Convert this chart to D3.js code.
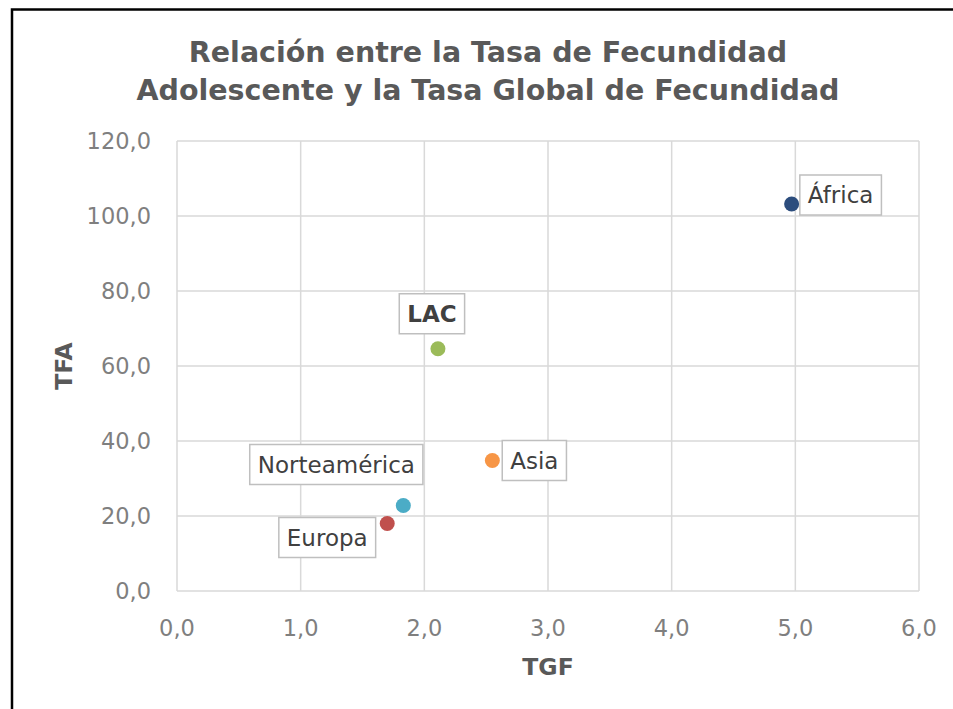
<!DOCTYPE html>
<meta charset="utf-8">
<style>

body {
  margin: 0;
  background: #fff;
}

text {
  font-family: "DejaVu Sans", sans-serif;
}

.grid line {
  stroke: #d9d9d9;
  stroke-width: 1.5px;
}

.tick-label {
  fill: #7f7f7f;
  font-size: 22.5px;
}

.axis-title, .title {
  fill: #595959;
  font-weight: bold;
}

.label-box {
  fill: #fff;
  stroke: #bfbfbf;
  stroke-width: 1.5px;
}

.label-text {
  fill: #404040;
  font-size: 23px;
}

</style>
<body>
<script src="https://d3js.org/d3.v7.min.js"></script>
<script>

var regions = ["África", "LAC", "Asia", "Norteamérica", "Europa"];
var tgf = [4.97, 2.11, 2.55, 1.83, 1.70];
var tfa = [103.2, 64.6, 34.8, 22.8, 18.0];
var colors = ["#2c4d7d", "#9bbb59", "#f79646", "#4bacc6", "#c0504d"];
var xTicks = [0, 1, 2, 3, 4, 5, 6];
var yTicks = [0, 20, 40, 60, 80, 100, 120];

// where each label box sits relative to its point
var labelPos = {
  "África":       {dx: 49, dy: -9},
  "LAC":          {dx: -6, dy: -35},
  "Asia":         {dx: 42, dy: 0},
  "Norteamérica": {dx: -67, dy: -41},
  "Europa":       {dx: -60, dy: 14}
};

var width = 953,
    height = 709;

var margin = {top: 141, right: 34, bottom: 118, left: 177};

var x = d3.scaleLinear()
    .domain([0, 6])
    .range([margin.left, width - margin.right]);

var y = d3.scaleLinear()
    .domain([0, 120])
    .range([height - margin.bottom, margin.top]);

var fmt = function(d) { return d3.format(".1f")(d).replace(".", ","); };

var svg = d3.select("body").append("svg")
    .attr("width", width)
    .attr("height", height);

// outer frame, runs off the right and bottom edges
svg.append("rect")
    .attr("x", 12)
    .attr("y", 9.5)
    .attr("width", width + 20)
    .attr("height", height + 20)
    .attr("fill", "none")
    .attr("stroke", "#000")
    .attr("stroke-width", 2.5);

var grid = svg.append("g").attr("class", "grid");

grid.selectAll(".vx")
    .data(xTicks).enter()
    .append("line")
    .attr("x1", function(d) { return x(d); })
    .attr("x2", function(d) { return x(d); })
    .attr("y1", y(0))
    .attr("y2", y(120));

grid.selectAll(".hy")
    .data(yTicks).enter()
    .append("line")
    .attr("x1", x(0))
    .attr("x2", x(6))
    .attr("y1", function(d) { return y(d); })
    .attr("y2", function(d) { return y(d); });

svg.selectAll(".xt")
    .data(xTicks).enter()
    .append("text")
    .attr("class", "tick-label")
    .attr("x", function(d) { return x(d); })
    .attr("y", y(0) + 45)
    .attr("text-anchor", "middle")
    .text(fmt);

svg.selectAll(".yt")
    .data(yTicks).enter()
    .append("text")
    .attr("class", "tick-label")
    .attr("x", x(0) - 26)
    .attr("y", function(d) { return y(d); })
    .attr("dy", "0.35em")
    .attr("text-anchor", "end")
    .text(fmt);

svg.append("text")
    .attr("class", "axis-title")
    .attr("x", (x(0) + x(6)) / 2)
    .attr("y", 675)
    .attr("text-anchor", "middle")
    .style("font-size", "23.5px")
    .text("TGF");

svg.append("text")
    .attr("class", "axis-title")
    .attr("transform", "translate(72," + (y(60)) + ") rotate(-90)")
    .attr("text-anchor", "middle")
    .style("font-size", "23.5px")
    .text("TFA");

var title = svg.append("text")
    .attr("class", "title")
    .attr("text-anchor", "middle")
    .style("font-size", "28.5px");

title.append("tspan")
    .attr("x", 488)
    .attr("y", 62)
    .text("Relación entre la Tasa de Fecundidad");

title.append("tspan")
    .attr("x", 488)
    .attr("y", 100)
    .text("Adolescente y la Tasa Global de Fecundidad");

var points = regions.map(function(r, i) {
  return {name: r, tgf: tgf[i], tfa: tfa[i], color: colors[i]};
});

svg.selectAll(".pt")
    .data(points).enter()
    .append("circle")
    .attr("cx", function(d) { return x(d.tgf); })
    .attr("cy", function(d) { return y(d.tfa); })
    .attr("r", 7.5)
    .attr("fill", function(d) { return d.color; });

var labels = svg.selectAll(".lbl")
    .data(points).enter()
    .append("g")
    .attr("transform", function(d) {
      var p = labelPos[d.name];
      return "translate(" + (x(d.tgf) + p.dx) + "," + (y(d.tfa) + p.dy) + ")";
    });

labels.append("rect")
    .attr("class", "label-box");

labels.append("text")
    .attr("class", "label-text")
    .attr("text-anchor", "middle")
    .attr("dy", "0.36em")
    .style("font-weight", function(d) { return d.name === "LAC" ? "bold" : null; })
    .text(function(d) { return d.name; });

labels.each(function() {
  var g = d3.select(this);
  var w = g.select("text").node().getComputedTextLength();
  g.select("rect")
      .attr("x", -w / 2 - 8)
      .attr("y", -20)
      .attr("width", w + 16)
      .attr("height", 40);
});

</script>
